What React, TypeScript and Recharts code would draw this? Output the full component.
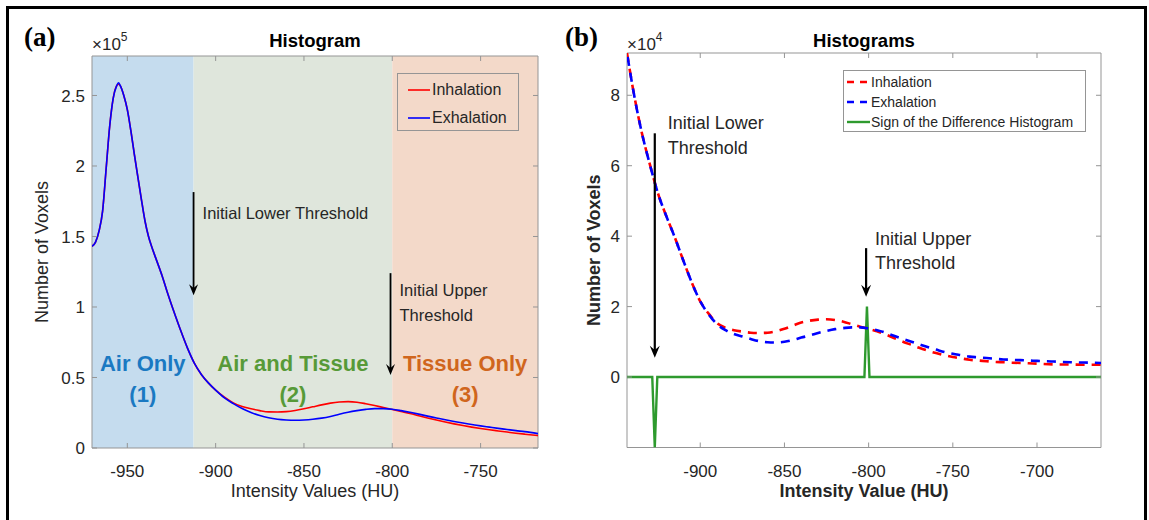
import React from 'react';
import { LineChart, Line, XAxis, YAxis, ReferenceArea, ReferenceLine, Legend } from 'recharts';

// ---- panel (a): lung histograms, voxel counts in units of 1e5 ----
const huA = [
  -970, -968, -966, -964, -962, -960, -958, -956, -955, -954, -952, -950, -948, -946, -944, -942,
  -940, -938, -936, -934, -930, -927, -924, -920, -916, -912, -908, -904, -900, -895, -890, -885, -880,
  -875, -870, -865, -860, -855, -850, -845, -840, -835, -830, -825, -820, -815, -810, -805, -800,
  -795, -790, -785, -780, -775, -770, -765, -760, -755, -750, -745, -740, -735, -730, -725, -717.5,
];
const inhalationA = [
  1.43, 1.46, 1.54, 1.68, 1.98, 2.28, 2.48, 2.57, 2.58, 2.57, 2.5, 2.4, 2.25, 2.08, 1.92, 1.76,
  1.61, 1.5, 1.42, 1.35, 1.21, 1.09, 0.98, 0.84, 0.71, 0.6, 0.52, 0.46, 0.41, 0.36, 0.32, 0.295, 0.278,
  0.265, 0.256, 0.255, 0.258, 0.266, 0.278, 0.292, 0.306, 0.318, 0.326, 0.329, 0.325, 0.314, 0.301, 0.287, 0.273,
  0.259, 0.245, 0.229, 0.213, 0.198, 0.184, 0.171, 0.159, 0.148, 0.138, 0.129, 0.121, 0.113, 0.105, 0.098, 0.088,
];
const exhalationA = [
  1.43, 1.46, 1.54, 1.68, 1.98, 2.28, 2.48, 2.57, 2.59, 2.57, 2.5, 2.4, 2.25, 2.08, 1.92, 1.76,
  1.61, 1.5, 1.42, 1.35, 1.21, 1.09, 0.98, 0.84, 0.71, 0.6, 0.52, 0.46, 0.41, 0.355, 0.315, 0.28, 0.252,
  0.23, 0.214, 0.204, 0.199, 0.197, 0.199, 0.204, 0.212, 0.224, 0.24, 0.254, 0.265, 0.274, 0.279, 0.279, 0.275,
  0.265, 0.253, 0.24, 0.226, 0.213, 0.2, 0.188, 0.177, 0.167, 0.157, 0.148, 0.139, 0.131, 0.123, 0.116, 0.102,
];
const xDomainA = [-970, -717.5];
const yDomainA = [0, 2.78];
const xTicksA = [-950, -900, -850, -800, -750];
const yTicksA = [0, 0.5, 1, 1.5, 2, 2.5];
const regionBounds = [-970, -912.5, -800, -717.5];
const regionNames = ['Air Only', 'Air and Tissue', 'Tissue Only'];
const regionNumbers = ['(1)', '(2)', '(3)'];
const lowerThresholdA = -912.5;
const upperThresholdA = -801;

// ---- panel (b): zoomed histograms, voxel counts in units of 1e4 ----
const huB = [
  -943.5, -940, -935, -930, -925, -920, -915, -910, -905, -900, -895, -890, -885, -880, -875, -870, -865, -860,
  -855, -850, -845, -840, -835, -830, -825, -820, -815, -810, -805, -800, -795, -790, -785, -780, -775, -770,
  -765, -760, -755, -750, -745, -740, -735, -730, -725, -720, -715, -710, -705, -700, -690, -680, -670, -662,
];
const inhalationB = [
  9.2, 8.2, 7.0, 6.05, 5.2, 4.55, 3.95, 3.3, 2.68, 2.15, 1.8, 1.53, 1.4, 1.33, 1.29, 1.26, 1.25, 1.26,
  1.3, 1.37, 1.46, 1.55, 1.6, 1.63, 1.64, 1.62, 1.57, 1.5, 1.43, 1.37, 1.3, 1.21, 1.11, 1.01, 0.92, 0.83,
  0.75, 0.68, 0.62, 0.57, 0.53, 0.49, 0.47, 0.45, 0.43, 0.42, 0.41, 0.4, 0.39, 0.38, 0.36, 0.355, 0.35, 0.35,
];
const exhalationB = [
  9.2, 8.2, 7.0, 6.05, 5.2, 4.55, 3.95, 3.3, 2.68, 2.15, 1.78, 1.5, 1.33, 1.22, 1.15, 1.08, 1.02, 0.99,
  0.98, 1.0, 1.05, 1.12, 1.18, 1.25, 1.31, 1.36, 1.39, 1.41, 1.41, 1.38, 1.33, 1.26, 1.17, 1.09, 1.01, 0.93,
  0.85, 0.78, 0.71, 0.66, 0.62, 0.58, 0.56, 0.54, 0.52, 0.5, 0.49, 0.48, 0.47, 0.46, 0.44, 0.42, 0.41, 0.4,
];
const signHu = [-943.5, -928.5, -927, -925.5, -802.5, -801, -799.5, -662];
const signValues = [0, 0, -2, 0, 0, 2, 0, 0];
const xDomainB = [-943.5, -662];
const yDomainB = [-2, 9.2];
const xTicksB = [-900, -850, -800, -750, -700];
const yTicksB = [0, 2, 4, 6, 8];
const lowerThresholdB = -927;
const upperThresholdB = -801.5;

const seriesNames = ['Inhalation', 'Exhalation', 'Sign of the Difference Histogram'];

const dataA = huA.map((hu, i) => ({ hu, inhalation: inhalationA[i], exhalation: exhalationA[i] }));
const dataB = huB.map((hu, i) => ({ hu, inhalation: inhalationB[i], exhalation: exhalationB[i] }));
const signData = signHu.map((hu, i) => ({ hu, sign: signValues[i] }));

const FONT = '"Liberation Sans", Arial, Helvetica, sans-serif';
const SERIF = '"Liberation Serif", "Times New Roman", serif';
const BOX = '#959595';
const TEXT = '#262626';
const RED = '#ff0000';
const BLUE = '#0000ff';
const GREEN = '#2e9a2e';
const REGION_FILL = ['#c5dcee', '#dfe6dc', '#f3d9c9'];
const REGION_TEXT = ['#1a79c2', '#579a38', '#d0661d'];
const DASH = '9 7';
const TICK_LEN = 5;
const X_GAP = 17;
const Y_GAP = 7;

// inward MATLAB-style ticks on both sides of the box, plus the label
const makeXTick = (plotH: number) => (props: any) => {
  const { x, y, payload } = props;
  const axisY = y - X_GAP;
  return (
    <g>
      <line x1={x} x2={x} y1={axisY} y2={axisY - TICK_LEN} stroke={BOX} />
      <line x1={x} x2={x} y1={axisY - plotH} y2={axisY - plotH + TICK_LEN} stroke={BOX} />
      <text x={x} y={y} dy="0.71em" textAnchor="middle" fontSize={17} fill={TEXT} fontFamily={FONT}>
        {payload.value}
      </text>
    </g>
  );
};

const makeYTick = (plotW: number) => (props: any) => {
  const { x, y, payload } = props;
  const axisX = x + Y_GAP;
  return (
    <g>
      <line x1={axisX} x2={axisX + TICK_LEN} y1={y} y2={y} stroke={BOX} />
      <line x1={axisX + plotW} x2={axisX + plotW - TICK_LEN} y1={y} y2={y} stroke={BOX} />
      <text x={x} y={y} dy="0.355em" textAnchor="end" fontSize={17} fill={TEXT} fontFamily={FONT}>
        {payload.value}
      </text>
    </g>
  );
};

type ArrowOpts = {
  lines: string[];
  dx: number;
  baselines: number[];
  fontSize: number;
  width: number;
  head: number;
  half: number;
};

// vertical arrow with its caption; caption is placed relative to the arrow tail
const arrowShape = (o: ArrowOpts) => (props: any) => {
  const { x1, y1, x2, y2 } = props;
  return (
    <g>
      <line x1={x1} y1={y1} x2={x2} y2={y2 - o.head * 0.6} stroke="#000" strokeWidth={o.width} />
      <path
        d={`M${x2},${y2} L${x2 - o.half},${y2 - o.head} L${x2},${y2 - o.head * 0.65} L${x2 + o.half},${y2 - o.head} Z`}
        fill="#000"
      />
      {o.lines.map((t, i) => (
        <text key={i} x={x1 + o.dx} y={y1 + o.baselines[i]} fontSize={o.fontSize} fill={TEXT} fontFamily={FONT}>
          {t}
        </text>
      ))}
    </g>
  );
};

const regionLabel = (i: number) => (props: any) => {
  const { x, y, width, height } = props.viewBox;
  const cx = x + width / 2;
  const bottom = y + height;
  return (
    <g fontFamily={FONT} fontWeight="bold" fontSize={22} fill={REGION_TEXT[i]} textAnchor="middle">
      <text x={cx} y={bottom - 77}>{regionNames[i]}</text>
      <text x={cx} y={bottom - 46}>{regionNumbers[i]}</text>
    </g>
  );
};

type LegendRow = { name: string; color: string; dash?: string; width: number };

const LegendBox = ({ rows, padTop, padLeft, rowH, sampleW, gap, fontSize }: {
  rows: LegendRow[]; padTop: number; padLeft: number; rowH: number; sampleW: number; gap: number; fontSize: number;
}) => (
  <div
    style={{
      width: '100%',
      height: '100%',
      boxSizing: 'border-box',
      border: `1px solid ${BOX}`,
      paddingTop: padTop,
      paddingLeft: padLeft,
      fontFamily: FONT,
    }}
  >
    {rows.map((r) => (
      <div key={r.name} style={{ display: 'flex', alignItems: 'center', height: rowH }}>
        <svg width={sampleW} height={6} style={{ display: 'block' }}>
          <line x1={0} x2={sampleW} y1={3} y2={3} stroke={r.color} strokeWidth={r.width} strokeDasharray={r.dash} />
        </svg>
        <span style={{ marginLeft: gap, fontSize, color: TEXT, whiteSpace: 'nowrap', lineHeight: 1 }}>{r.name}</span>
      </div>
    ))}
  </div>
);

function PanelA() {
  const plotW = 446;
  const plotH = 392;
  return (
    <LineChart width={560} height={520} data={dataA} margin={{ top: 56, right: 22, bottom: 22, left: 32 }}>
      {regionNames.map((name, i) => (
        <ReferenceArea
          key={name}
          x1={regionBounds[i]}
          x2={regionBounds[i + 1]}
          y1={yDomainA[0]}
          y2={yDomainA[1]}
          fill={REGION_FILL[i]}
          fillOpacity={1}
          stroke="none"
          label={regionLabel(i)}
        />
      ))}
      <ReferenceArea x1={xDomainA[0]} x2={xDomainA[1]} y1={yDomainA[0]} y2={yDomainA[1]} fill="none" stroke={BOX} />
      <XAxis
        type="number"
        dataKey="hu"
        domain={xDomainA}
        ticks={xTicksA}
        interval={0}
        allowDataOverflow
        axisLine={false}
        tickLine={false}
        tickSize={0}
        tickMargin={X_GAP}
        height={50}
        tick={makeXTick(plotH)}
        label={{ value: 'Intensity Values (HU)', position: 'insideBottom', offset: 1, fontSize: 18, fill: TEXT }}
      />
      <YAxis
        type="number"
        domain={yDomainA}
        ticks={yTicksA}
        interval={0}
        allowDataOverflow
        axisLine={false}
        tickLine={false}
        tickSize={0}
        tickMargin={Y_GAP}
        width={60}
        tick={makeYTick(plotW)}
        label={{
          value: 'Number of Voxels',
          angle: -90,
          position: 'insideLeft',
          offset: 10,
          fontSize: 18,
          fill: TEXT,
          style: { textAnchor: 'middle' },
        }}
      />
      <Line type="monotone" dataKey="inhalation" name={seriesNames[0]} stroke={RED} strokeWidth={1.6} dot={false} activeDot={false} isAnimationActive={false} />
      <Line type="monotone" dataKey="exhalation" name={seriesNames[1]} stroke={BLUE} strokeWidth={1.6} dot={false} activeDot={false} isAnimationActive={false} />
      <ReferenceLine
        segment={[{ x: lowerThresholdA, y: 1.815 }, { x: lowerThresholdA, y: 1.084 }]}
        shape={arrowShape({ lines: ['Initial Lower Threshold'], dx: 9, baselines: [27], fontSize: 16.5, width: 1.8, head: 11, half: 4.5 })}
      />
      <ReferenceLine
        segment={[{ x: upperThresholdA, y: 1.24 }, { x: upperThresholdA, y: 0.517 }]}
        shape={arrowShape({ lines: ['Initial Upper', 'Threshold'], dx: 9, baselines: [23, 48], fontSize: 16.5, width: 1.8, head: 11, half: 4.5 })}
      />
      <Legend
        layout="horizontal"
        verticalAlign="middle"
        align="center"
        wrapperStyle={{ left: 397, top: 73, width: 122, height: 58 }}
        content={() => (
          <LegendBox
            rows={[
              { name: seriesNames[0], color: RED, width: 1.6 },
              { name: seriesNames[1], color: BLUE, width: 1.6 },
            ]}
            padTop={2}
            padLeft={10}
            rowH={28}
            sampleW={22}
            gap={2}
            fontSize={16}
          />
        )}
      />
      <text x={24} y={46} fontFamily={SERIF} fontWeight="bold" fontSize={27} fill="#000">(a)</text>
      <text x={92} y={50} fontFamily={FONT} fontSize={17} fill={TEXT}>
        ×10<tspan dy={-9} fontSize={12}>5</tspan>
      </text>
      <text x={315} y={47} textAnchor="middle" fontFamily={FONT} fontWeight="bold" fontSize={18.5} fill="#000">Histogram</text>
    </LineChart>
  );
}

function PanelB() {
  const plotW = 474;
  const plotH = 394.5;
  return (
    <LineChart width={589} height={520} margin={{ top: 53, right: 48, bottom: 22.5, left: 7 }}>
      <ReferenceArea x1={xDomainB[0]} x2={xDomainB[1]} y1={yDomainB[0]} y2={yDomainB[1]} fill="#fff" fillOpacity={1} stroke={BOX} />
      <XAxis
        type="number"
        dataKey="hu"
        domain={xDomainB}
        ticks={xTicksB}
        interval={0}
        allowDataOverflow
        axisLine={false}
        tickLine={false}
        tickSize={0}
        tickMargin={X_GAP}
        height={50}
        tick={makeXTick(plotH)}
        label={{ value: 'Intensity Value (HU)', position: 'insideBottom', offset: 1, fontSize: 18, fontWeight: 'bold', fill: TEXT }}
      />
      <YAxis
        type="number"
        domain={yDomainB}
        ticks={yTicksB}
        interval={0}
        allowDataOverflow
        axisLine={false}
        tickLine={false}
        tickSize={0}
        tickMargin={Y_GAP}
        width={60}
        tick={makeYTick(plotW)}
        label={{
          value: 'Number of Voxels',
          angle: -90,
          position: 'insideLeft',
          offset: 27,
          fontSize: 18,
          fontWeight: 'bold',
          fill: TEXT,
          style: { textAnchor: 'middle' },
        }}
      />
      <Line data={signData} type="linear" dataKey="sign" name={seriesNames[2]} stroke={GREEN} strokeWidth={2.4} dot={false} activeDot={false} isAnimationActive={false} />
      <Line data={dataB} type="monotone" dataKey="inhalation" name={seriesNames[0]} stroke={RED} strokeWidth={2.6} strokeDasharray={DASH} dot={false} activeDot={false} isAnimationActive={false} />
      <Line data={dataB} type="monotone" dataKey="exhalation" name={seriesNames[1]} stroke={BLUE} strokeWidth={2.6} strokeDasharray={DASH} strokeDashoffset={-4} dot={false} activeDot={false} isAnimationActive={false} />
      <ReferenceLine
        segment={[{ x: lowerThresholdB, y: 6.92 }, { x: lowerThresholdB, y: 0.55 }]}
        shape={arrowShape({ lines: ['Initial Lower', 'Threshold'], dx: 13, baselines: [-4.5, 20.5], fontSize: 18, width: 2.2, head: 12, half: 5 })}
      />
      <ReferenceLine
        segment={[{ x: upperThresholdB, y: 3.66 }, { x: upperThresholdB, y: 2.28 }]}
        shape={arrowShape({ lines: ['Initial Upper', 'Threshold'], dx: 9, baselines: [-3.5, 20.5], fontSize: 18, width: 2.2, head: 12, half: 5 })}
      />
      <Legend
        layout="horizontal"
        verticalAlign="middle"
        align="center"
        wrapperStyle={{ left: 283, top: 70, width: 243, height: 62 }}
        content={() => (
          <LegendBox
            rows={[
              { name: seriesNames[0], color: RED, dash: '7 6', width: 2.6 },
              { name: seriesNames[1], color: BLUE, dash: '7 6', width: 2.6 },
              { name: seriesNames[2], color: GREEN, width: 2.4 },
            ]}
            padTop={1}
            padLeft={3}
            rowH={20}
            sampleW={23}
            gap={1}
            fontSize={14}
          />
        )}
      />
      <text x={5} y={46} fontFamily={SERIF} fontWeight="bold" fontSize={27} fill="#000">(b)</text>
      <text x={67} y={50} fontFamily={FONT} fontSize={17} fill={TEXT}>
        ×10<tspan dy={-9} fontSize={12}>4</tspan>
      </text>
      <text x={304} y={47} textAnchor="middle" fontFamily={FONT} fontWeight="bold" fontSize={18.5} fill="#000">Histograms</text>
    </LineChart>
  );
}

export default function App() {
  return (
    <div
      style={{
        position: 'absolute',
        left: 0,
        top: 0,
        width: 1149,
        height: 520,
        overflow: 'hidden',
        background: '#fff',
        fontFamily: FONT,
      }}
    >
      <div style={{ position: 'absolute', left: 0, top: 0 }}>
        <PanelA />
      </div>
      <div style={{ position: 'absolute', left: 560, top: 0 }}>
        <PanelB />
      </div>
      <div
        style={{
          position: 'absolute',
          left: 6,
          top: 6,
          width: 1141,
          height: 580,
          boxSizing: 'border-box',
          border: '3px solid #000',
          borderBottom: 'none',
          pointerEvents: 'none',
        }}
      />
    </div>
  );
}
